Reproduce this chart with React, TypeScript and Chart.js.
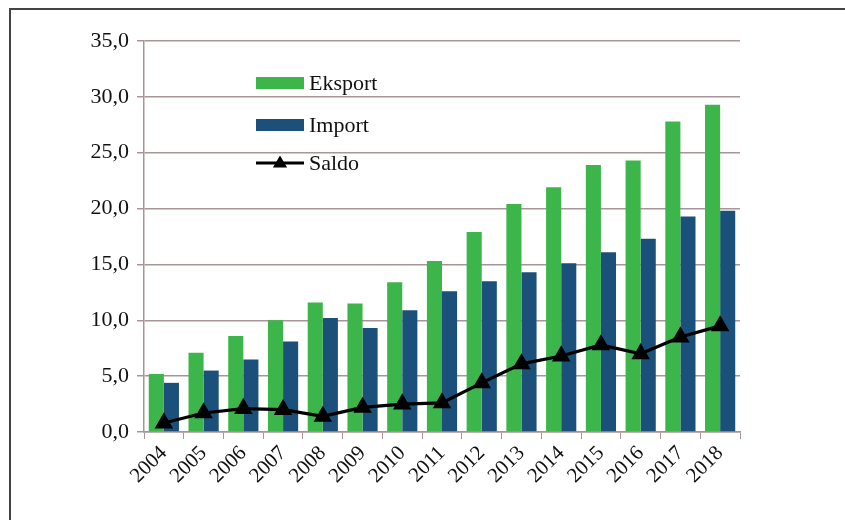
import React, { useEffect, useRef } from "react";
import { Chart, registerables } from "chart.js";

Chart.register(...registerables);

const years = ["2004", "2005", "2006", "2007", "2008", "2009", "2010", "2011", "2012", "2013", "2014", "2015", "2016", "2017", "2018"];
const eksport = [5.2, 7.1, 8.6, 10.0, 11.6, 11.5, 13.4, 15.3, 17.9, 20.4, 21.9, 23.9, 24.3, 27.8, 29.3];
const importVals = [4.4, 5.5, 6.5, 8.1, 10.2, 9.3, 10.9, 12.6, 13.5, 14.3, 15.1, 16.1, 17.3, 19.3, 19.8];
const saldo = [0.8, 1.7, 2.1, 2.0, 1.4, 2.2, 2.5, 2.6, 4.4, 6.1, 6.8, 7.8, 7.0, 8.5, 9.5];
const seriesNames = ["Eksport", "Import", "Saldo"];

const GREEN = "#3cb54a";
const BLUE = "#1a5079";
const GRID = "#a99595";
const TEXT = "#111111";
const FONT = "'Liberation Serif', 'Times New Roman', serif";

const legendPlugin = {
  id: "customLegend",
  afterDraw(chart: any) {
    const ctx = chart.ctx;
    const ca = chart.chartArea;
    const x0 = ca.left + 112;
    const w = 48;
    const ys = [ca.top + 42, ca.top + 84, ca.top + 122];
    ctx.save();
    ctx.font = "22px " + FONT;
    ctx.textBaseline = "middle";
    ctx.textAlign = "left";
    ctx.fillStyle = GREEN;
    ctx.fillRect(x0, ys[0] - 6, w, 12);
    ctx.fillStyle = BLUE;
    ctx.fillRect(x0, ys[1] - 6, w, 12);
    ctx.strokeStyle = "#000";
    ctx.lineWidth = 3;
    ctx.beginPath();
    ctx.moveTo(x0, ys[2]);
    ctx.lineTo(x0 + w, ys[2]);
    ctx.stroke();
    ctx.fillStyle = "#000";
    const cx = x0 + w / 2;
    const r = 7.5;
    ctx.beginPath();
    ctx.moveTo(cx, ys[2] - r);
    ctx.lineTo(cx + r * 0.95, ys[2] + r * 0.6);
    ctx.lineTo(cx - r * 0.95, ys[2] + r * 0.6);
    ctx.closePath();
    ctx.fill();
    ctx.fillStyle = TEXT;
    seriesNames.forEach((n, i) => {
      ctx.fillText(n, x0 + w + 5, ys[i] + 1);
    });
    ctx.restore();
  },
};

export default function App() {
  const ref = useRef<HTMLCanvasElement | null>(null);
  useEffect(() => {
    if (!ref.current) return;
    const chart = new Chart(ref.current, {
      type: "bar",
      data: {
        labels: years,
        datasets: [
          {
            type: "line",
            label: seriesNames[2],
            data: saldo,
            borderColor: "#000",
            backgroundColor: "#000",
            borderWidth: 3.2,
            pointStyle: "triangle",
            pointRadius: 7.5,
            pointBackgroundColor: "#000",
            pointBorderColor: "#000",
            tension: 0,
            order: 0,
          } as any,
          {
            label: seriesNames[0],
            data: eksport,
            backgroundColor: GREEN,
            categoryPercentage: 0.76,
            barPercentage: 1.0,
            order: 1,
          },
          {
            label: seriesNames[1],
            data: importVals,
            backgroundColor: BLUE,
            categoryPercentage: 0.76,
            barPercentage: 1.0,
            order: 1,
          },
        ],
      },
      options: {
        animation: false,
        responsive: false,
        maintainAspectRatio: false,
        layout: { padding: { left: 0, top: 41, right: 105, bottom: 0 } },
        plugins: { legend: { display: false }, tooltip: { enabled: false } },
        scales: {
          x: {
            offset: true,
            grid: {
              offset: true,
              drawOnChartArea: false,
              drawTicks: true,
              tickLength: 7,
              color: GRID,
            },
            border: { color: GRID, width: 1.5 },
            ticks: {
              minRotation: 45,
              maxRotation: 45,
              autoSkip: false,
              padding: 2,
              color: TEXT,
              font: { family: FONT, size: 21 },
            },
            afterFit(scale: any) {
              scale.height = 88;
            },
          },
          y: {
            min: 0,
            max: 35,
            ticks: {
              stepSize: 5,
              padding: 8,
              color: TEXT,
              font: { family: FONT, size: 22 },
              callback: (v: any) => Number(v).toFixed(1).replace(".", ","),
            },
            grid: { color: GRID, lineWidth: 1.5, tickLength: 7 },
            border: { color: GRID, width: 1.5 },
            afterFit(scale: any) {
              scale.width = 144;
            },
          },
        },
      },
      plugins: [legendPlugin],
    });
    return () => chart.destroy();
  }, []);
  return (
    <div style={{ position: "fixed", left: 0, top: 0, width: 845, height: 520, background: "#fff" }}>
      <canvas ref={ref} width={845} height={520} style={{ position: "absolute", left: 0, top: 0, width: 845, height: 520 }} />
      <div
        style={{
          position: "absolute",
          left: 9,
          top: 8,
          right: 0,
          bottom: 0,
          borderLeft: "2px solid #444",
          borderTop: "2px solid #444",
          pointerEvents: "none",
        }}
      />
    </div>
  );
}
